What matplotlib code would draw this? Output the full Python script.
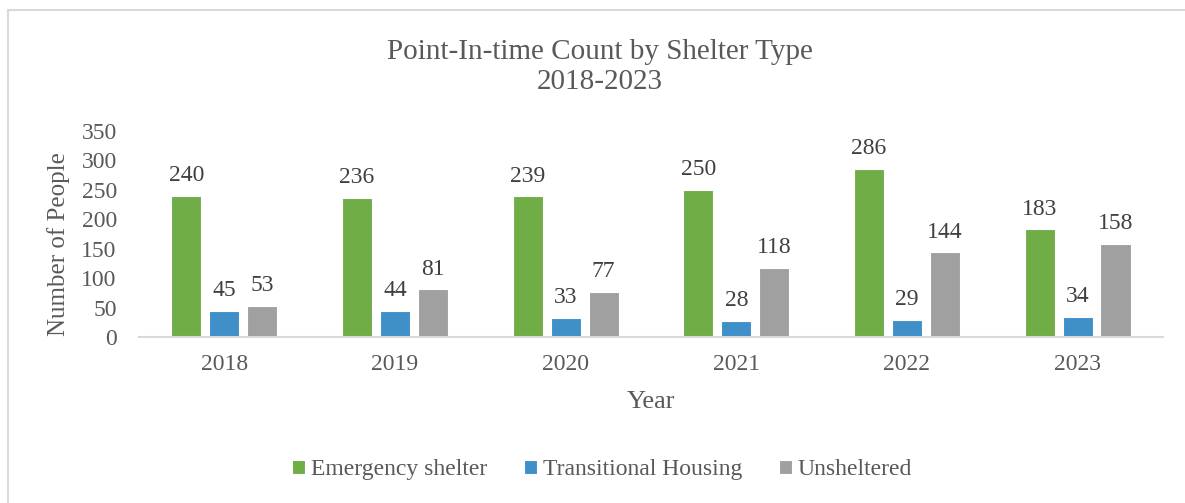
import numpy as np
import matplotlib.pyplot as plt
from matplotlib.patches import Rectangle

years = ["2018", "2019", "2020", "2021", "2022", "2023"]
emergency = [240, 236, 239, 250, 286, 183]
transitional = [45, 44, 33, 28, 29, 34]
unsheltered = [53, 81, 77, 118, 144, 158]
series_names = ["Emergency shelter", "Transitional Housing", "Unsheltered"]
colors = ["#70AD47", "#3F8FC8", "#A0A0A0"]

plt.rcParams['font.family'] = ['Liberation Serif', 'DejaVu Serif']
txt = "#595959"

fig = plt.figure(figsize=(11.85, 5.03), dpi=100)
ax = fig.add_axes([0.1173, 0.33, 0.9814 - 0.1173, 0.4096])

x = np.arange(len(years))
width = 0.176
step = 0.222
for k, (vals, name, c) in enumerate(zip([emergency, transitional, unsheltered], series_names, colors)):
    bars = ax.bar(x + (k - 1) * step, vals, width, color=c, edgecolor="white", linewidth=0.8, label=name)
    for b, v in zip(bars, vals):
        ax.annotate(str(v), (b.get_x() + b.get_width() / 2, v), xytext=(0, 7),
                    textcoords="offset points", ha="center", va="bottom",
                    fontsize=17, color="#404040")

ax.set_xlim(-0.5, len(years) - 0.5)
ax.set_ylim(0, 350)
ax.set_yticks(range(0, 351, 50))
ax.set_xticks(x)
ax.set_xticklabels(years)
ax.tick_params(axis="both", length=0, labelsize=17, colors=txt)
ax.tick_params(axis="x", pad=12)
ax.tick_params(axis="y", pad=16)
for s in ["top", "right", "left"]:
    ax.spines[s].set_visible(False)
ax.spines["bottom"].set_color("#D9D9D9")
ax.spines["bottom"].set_linewidth(1.5)

fig.text(59 / 1185, 1 - 244 / 503, "Number of People", rotation=90, ha="center", va="center",
         fontsize=18, color=txt)
ax.set_xlabel("Year", fontsize=19, color=txt, labelpad=12)

fig.text(0.506, 0.866, "Point-In-time Count by Shelter Type\n2018-2023", ha="center", va="center",
         fontsize=21, color=txt, linespacing=1.2)

leg = fig.legend(loc="center", bbox_to_anchor=(0.508, 0.066), ncol=3, frameon=False,
                 fontsize=17, handlelength=0.55, handleheight=0.55, handletextpad=0.25,
                 columnspacing=1.55, labelcolor=txt)

fig.patches.append(Rectangle((8 / 1185, -0.1), 1.2, 0.1 + 1 - 10 / 503, transform=fig.transFigure,
                             fill=False, edgecolor="#D9D9D9", linewidth=1.5))

fig.savefig("out.png", dpi=100)
